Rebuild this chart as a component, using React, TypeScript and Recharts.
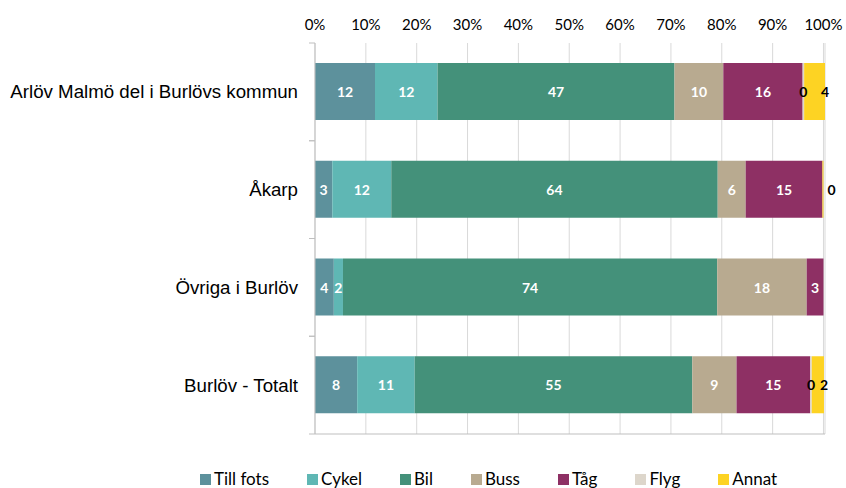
import {
  BarChart,
  Bar,
  XAxis,
  YAxis,
  CartesianGrid,
  Legend,
  LabelList,
} from "recharts";

const categories = [
  "Arlöv Malmö del i Burlövs kommun",
  "Åkarp",
  "Övriga i Burlöv",
  "Burlöv - Totalt",
];

// andel (%) per färdsätt, samma ordning som categories
const tillFots = [11.8, 3.4, 3.7, 8.3];
const cykel = [12.3, 11.6, 1.8, 11.3];
const bil = [46.6, 64.2, 73.6, 54.6];
const buss = [9.6, 5.5, 17.6, 8.7];
const tag = [15.6, 15.1, 3.3, 14.5];
const flyg: (number | null)[] = [0.3, null, null, 0.3];
const annat: (number | null)[] = [4.1, 0.2, null, 2.4];

const percentTicks = [0, 10, 20, 30, 40, 50, 60, 70, 80, 90, 100];

const series = [
  { key: "Till fots", color: "#5d919c", values: tillFots, dark: true },
  { key: "Cykel", color: "#5fb7b4", values: cykel, dark: true },
  { key: "Bil", color: "#44917a", values: bil, dark: true },
  { key: "Buss", color: "#b8aa90", values: buss, dark: true },
  { key: "Tåg", color: "#8e3064", values: tag, dark: true },
  { key: "Flyg", color: "#ddd6cb", values: flyg, dark: false },
  { key: "Annat", color: "#fdd323", values: annat, dark: false },
];

const data = categories.map((name, i) => {
  const row: Record<string, string | number | null> = { name };
  series.forEach((s) => {
    row[s.key] = s.values[i];
  });
  return row;
});

const LABEL_FONT = "Lato, 'Open Sans', sans-serif";

function makeLabel(color: string, outside: boolean) {
  return function SegmentLabel(props: any) {
    const { x, y, width, height, value } = props;
    const v = Array.isArray(value) ? value[1] - value[0] : value;
    if (v === null || v === undefined || Number.isNaN(v)) return null;
    let cx = x + width / 2;
    if (outside) cx = x + width + (width < 3 ? 8 : 0);
    return (
      <text
        x={cx}
        y={y + height / 2}
        fill={color}
        fontSize={14}
        fontWeight={700}
        fontFamily={LABEL_FONT}
        textAnchor="middle"
        dominantBaseline="central"
      >
        {Math.round(v)}
      </text>
    );
  };
}

function CategoryTick(props: any) {
  const { x, y, payload } = props;
  const half = 97.75 / 2;
  return (
    <g>
      <text
        x={x}
        y={y}
        fontSize={18.7}
        fontFamily="'Liberation Sans', Arial, sans-serif"
        fill="#000"
        textAnchor="end"
        dominantBaseline="central"
      >
        {payload.value}
      </text>
      <line x1={x + 11} x2={x + 17} y1={y - half} y2={y - half} stroke="#bfbfbf" />
      <line x1={x + 11} x2={x + 17} y1={y + half} y2={y + half} stroke="#bfbfbf" />
    </g>
  );
}

function TopTick(props: any) {
  const { x, y, payload } = props;
  return (
    <text
      x={x}
      y={y - 5}
      fontSize={15}
      fontFamily={LABEL_FONT}
      fill="#000"
      textAnchor="middle"
    >
      {payload.value}%
    </text>
  );
}

function LegendContent() {
  return (
    <div
      style={{
        display: "flex",
        gap: 38,
        paddingLeft: 200,
        paddingTop: 23,
        alignItems: "center",
        fontFamily: LABEL_FONT,
        fontSize: 17,
        lineHeight: "20px",
        color: "#000",
      }}
    >
      {series.map((s) => (
        <div key={s.key} style={{ display: "flex", alignItems: "center", gap: 3 }}>
          <span
            style={{ width: 11, height: 11, background: s.color, display: "inline-block" }}
          />
          <span>{s.key}</span>
        </div>
      ))}
    </div>
  );
}

export default function App() {
  return (
    <div style={{ position: "absolute", left: 0, top: 0, background: "#fff" }}>
      <BarChart
        width={846}
        height={488}
        data={data}
        layout="vertical"
        barSize={57}
        margin={{ top: 13, right: 21, left: 0, bottom: 8 }}
      >
        <CartesianGrid xAxisId="top" horizontal={false} stroke="#d9d9d9" />
        <XAxis
          xAxisId="top"
          orientation="top"
          type="number"
          domain={[0, 100]}
          ticks={percentTicks}
          height={30}
          axisLine={false}
          tickLine={false}
          tick={<TopTick />}
          interval={0}
        />
        <XAxis
          xAxisId="bottom"
          orientation="bottom"
          type="number"
          domain={[0, 100]}
          ticks={percentTicks}
          height={12}
          axisLine={{ stroke: "#bfbfbf" }}
          tickLine={{ stroke: "#d0d0d0" }}
          tickSize={6}
          tickFormatter={() => ""}
          interval={0}
        />
        <YAxis
          type="category"
          dataKey="name"
          width={315}
          axisLine={{ stroke: "#bfbfbf" }}
          tickLine={false}
          tickSize={0}
          tickMargin={17}
          tick={<CategoryTick />}
          interval={0}
        />
        <Legend verticalAlign="bottom" height={34} content={<LegendContent />} />
        {series.map((s) => (
          <Bar
            key={s.key}
            xAxisId="top"
            dataKey={s.key}
            stackId="a"
            fill={s.color}
            isAnimationActive={false}
          >
            <LabelList
              dataKey={s.key}
              content={makeLabel(s.dark ? "#fff" : "#000", s.key === "Annat")}
            />
          </Bar>
        ))}
      </BarChart>
    </div>
  );
}
